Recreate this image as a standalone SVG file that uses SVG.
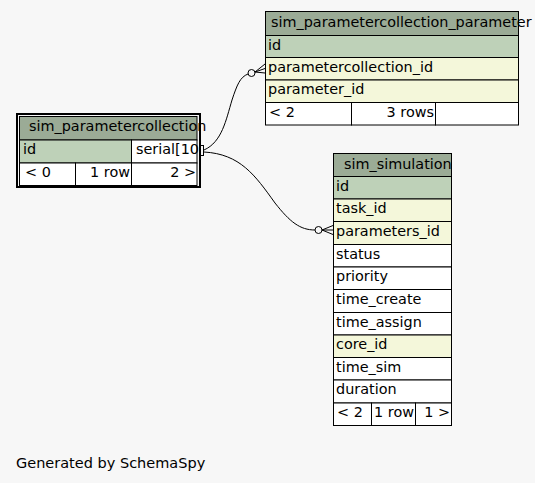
<svg xmlns="http://www.w3.org/2000/svg" width="535" height="483" viewBox="0 0 535 483">
<style>
text{font-family:"DejaVu Sans",sans-serif;font-size:14.4px;fill:#000}
.c{stroke:#000;stroke-width:1}
.h{fill:#9bab96}
.pk{fill:#bed1b8}
.fk{fill:#f4f7da}
.w{fill:#fff}
.e{fill:none;stroke:#000;stroke-width:1}
.r{text-anchor:end}
</style>
<rect width="535" height="483" fill="#f7f7f7"/>
<g id="sim_parametercollection_parameter">
<rect class="c h" x="265.5" y="11.5" width="253" height="24"/>
<rect class="c pk" x="265.5" y="35.5" width="253" height="22"/>
<rect class="c fk" x="265.5" y="57.5" width="253" height="22.5"/>
<rect class="c fk" x="265.5" y="80" width="253" height="22.5"/>
<rect class="c w" x="265.5" y="102.5" width="86" height="22.5"/>
<rect class="c w" x="351.5" y="102.5" width="84" height="22.5"/>
<rect class="c w" x="435.5" y="102.5" width="83" height="22.5"/>
<text x="271" y="27">sim_parametercollection_parameter</text>
<text x="268" y="49.5">id</text>
<text x="268" y="71.5">parametercollection_id</text>
<text x="268" y="94">parameter_id</text>
<text x="269" y="116.5">&lt; 2</text>
<text class="r" x="434" y="116.5">3 rows</text>
</g>
<g id="sim_parametercollection">
<rect x="17" y="114" width="183" height="73" fill="none" stroke="#000" stroke-width="2"/>
<rect class="c h" x="19.5" y="116.5" width="177.5" height="23.5"/>
<rect class="c pk" x="19.5" y="140" width="112" height="23"/>
<rect class="c w" x="131.5" y="140" width="65.5" height="23"/>
<rect class="c w" x="19.5" y="163" width="56" height="22.5"/>
<rect class="c w" x="75.5" y="163" width="56" height="22.5"/>
<rect class="c w" x="131.5" y="163" width="65.5" height="22.5"/>
<text x="29" y="131">sim_parametercollection</text>
<text x="23" y="154">id</text>
<text x="136" y="154">serial[10</text>
<text x="25" y="177">&lt; 0</text>
<text class="r" x="130" y="177">1 row</text>
<text class="r" x="196" y="177">2 &gt;</text>
<rect x="199.5" y="145.5" width="4" height="10" fill="none" stroke="#000"/>
</g>
<g id="sim_simulation">
<rect class="c h" x="333.5" y="153.5" width="118" height="23"/>
<rect class="c pk" x="333.5" y="176.5" width="118" height="22.5"/>
<rect class="c fk" x="333.5" y="199" width="118" height="22.5"/>
<rect class="c fk" x="333.5" y="221.5" width="118" height="23"/>
<rect class="c w" x="333.5" y="244.5" width="118" height="22.5"/>
<rect class="c w" x="333.5" y="267" width="118" height="22.5"/>
<rect class="c w" x="333.5" y="289.5" width="118" height="23"/>
<rect class="c w" x="333.5" y="312.5" width="118" height="22.5"/>
<rect class="c fk" x="333.5" y="335" width="118" height="22.5"/>
<rect class="c w" x="333.5" y="357.5" width="118" height="22.5"/>
<rect class="c w" x="333.5" y="380" width="118" height="23"/>
<rect class="c w" x="333.5" y="403" width="38" height="22.5"/>
<rect class="c w" x="371.5" y="403" width="44" height="22.5"/>
<rect class="c w" x="415.5" y="403" width="36" height="22.5"/>
<text x="344" y="168.5">sim_simulation</text>
<text x="336" y="190.5">id</text>
<text x="336" y="213">task_id</text>
<text x="336" y="235.5">parameters_id</text>
<text x="336" y="258.5">status</text>
<text x="336" y="281">priority</text>
<text x="336" y="303.5">time_create</text>
<text x="336" y="326.5">time_assign</text>
<text x="336" y="349">core_id</text>
<text x="336" y="371.5">time_sim</text>
<text x="336" y="394">duration</text>
<text x="337" y="417">&lt; 2</text>
<text class="r" x="414" y="417">1 row</text>
<text class="r" x="450" y="417">1 &gt;</text>
</g>
<g id="connectors">
<path class="e" d="M204,150 C222,142 226,120 232,100 C237,85 240,77 248,74"/>
<circle class="e" cx="251.5" cy="73" r="3.5"/>
<path class="e" d="M255,72 L265,64 M255,72 L265,68.5 M255,72 L265,73"/>
<path class="e" d="M204,152 C240,154 255,175 275,203 C290,222 300,230 315,230"/>
<circle class="e" cx="318.5" cy="230" r="3.5"/>
<path class="e" d="M322,230 L333,225.5 M322,230 L333,230 M322,230 L333,234.5"/>
</g>
<text x="16" y="468" style="font-size:14.5px">Generated by SchemaSpy</text>
</svg>
